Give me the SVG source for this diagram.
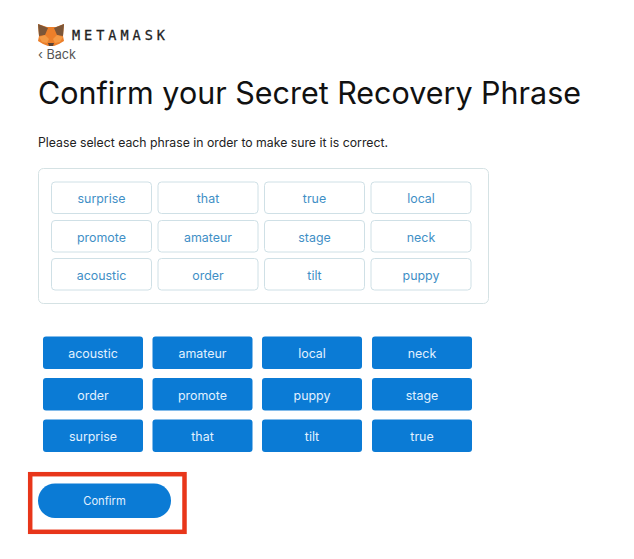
<svg xmlns="http://www.w3.org/2000/svg" width="634" height="559" viewBox="0 0 634 559">
<style>
text{font-family:"Inter","Lato","Liberation Sans",sans-serif}
.l rect{fill:#fff;stroke:#cfe0e6;stroke-width:1}
.l text{fill:#3f8fc6;font-size:12.400px;text-anchor:middle}
.d rect{fill:#0b7bd5}
.d text{fill:#e2f1ff;font-size:12.400px;text-anchor:middle}
</style>
<rect width="634" height="559" fill="#fff"/>
<g id="logo">
<polygon points="38,24 47,27 56,27 64,24 63,36 64,41 59,44 54,46 48,46 43,44 38,41 39,36" fill="#ec7f2a"/>
<polygon points="38,24 48,28 45,35 39,36" fill="#7c5638"/>
<polygon points="64,24 54,28 57,35 63,36" fill="#7c5638"/>
<polygon points="39,37 45,35 49,39 47,43 42,42" fill="#f49a45"/>
<polygon points="63,37 57,35 53,39 55,43 60,42" fill="#f49a45"/>
<polygon points="48,43 54,43 53,46 49,46" fill="#5a4436"/>
<text x="72" y="39.500" font-size="13.500" fill="#222" stroke="#222" stroke-width=".3" style="font-family:'DejaVu Sans Mono','Liberation Mono',monospace" textLength="93">METAMASK</text>
</g>
<text id="back" x="38" y="59" font-size="13" fill="#555" textLength="38" lengthAdjust="spacingAndGlyphs">‹ Back</text>
<text id="title" x="38" y="104" font-size="30.500" fill="#111" textLength="543" lengthAdjust="spacingAndGlyphs">Confirm your Secret Recovery Phrase</text>
<text id="subtitle" x="38" y="147" font-size="12.500" fill="#222" textLength="350" lengthAdjust="spacingAndGlyphs">Please select each phrase in order to make sure it is correct.</text>
<rect id="panel" x="38.500" y="168.500" width="450" height="135" rx="5" fill="#fff" stroke="#d5e2e4"/>
<g class="l">
<g id="s1"><rect x="51.500" y="182" width="100" height="31.500" rx="3.500"/><text x="101.500" y="203">surprise</text></g>
<g id="s2"><rect x="158" y="182" width="100" height="31.500" rx="3.500"/><text x="208" y="203">that</text></g>
<g id="s3"><rect x="264.500" y="182" width="100" height="31.500" rx="3.500"/><text x="314.500" y="203">true</text></g>
<g id="s4"><rect x="371" y="182" width="100" height="31.500" rx="3.500"/><text x="421" y="203">local</text></g>
<g id="s5"><rect x="51.500" y="220.500" width="100" height="31.500" rx="3.500"/><text x="101.500" y="241.500">promote</text></g>
<g id="s6"><rect x="158" y="220.500" width="100" height="31.500" rx="3.500"/><text x="208" y="241.500">amateur</text></g>
<g id="s7"><rect x="264.500" y="220.500" width="100" height="31.500" rx="3.500"/><text x="314.500" y="241.500">stage</text></g>
<g id="s8"><rect x="371" y="220.500" width="100" height="31.500" rx="3.500"/><text x="421" y="241.500">neck</text></g>
<g id="s9"><rect x="51.500" y="258.500" width="100" height="31.500" rx="3.500"/><text x="101.500" y="279.500">acoustic</text></g>
<g id="s10"><rect x="158" y="258.500" width="100" height="31.500" rx="3.500"/><text x="208" y="279.500">order</text></g>
<g id="s11"><rect x="264.500" y="258.500" width="100" height="31.500" rx="3.500"/><text x="314.500" y="279.500">tilt</text></g>
<g id="s12"><rect x="371" y="258.500" width="100" height="31.500" rx="3.500"/><text x="421" y="279.500">puppy</text></g>
</g>
<g class="d">
<g id="w1"><rect x="43" y="336.500" width="100" height="32.500" rx="3"/><text x="93" y="358">acoustic</text></g>
<g id="w2"><rect x="152.500" y="336.500" width="100" height="32.500" rx="3"/><text x="202.500" y="358">amateur</text></g>
<g id="w3"><rect x="262" y="336.500" width="100" height="32.500" rx="3"/><text x="312" y="358">local</text></g>
<g id="w4"><rect x="372" y="336.500" width="100" height="32.500" rx="3"/><text x="422" y="358">neck</text></g>
<g id="w5"><rect x="43" y="378" width="100" height="32.500" rx="3"/><text x="93" y="399.500">order</text></g>
<g id="w6"><rect x="152.500" y="378" width="100" height="32.500" rx="3"/><text x="202.500" y="399.500">promote</text></g>
<g id="w7"><rect x="262" y="378" width="100" height="32.500" rx="3"/><text x="312" y="399.500">puppy</text></g>
<g id="w8"><rect x="372" y="378" width="100" height="32.500" rx="3"/><text x="422" y="399.500">stage</text></g>
<g id="w9"><rect x="43" y="419.500" width="100" height="32.500" rx="3"/><text x="93" y="441">surprise</text></g>
<g id="w10"><rect x="152.500" y="419.500" width="100" height="32.500" rx="3"/><text x="202.500" y="441">that</text></g>
<g id="w11"><rect x="262" y="419.500" width="100" height="32.500" rx="3"/><text x="312" y="441">tilt</text></g>
<g id="w12"><rect x="372" y="419.500" width="100" height="32.500" rx="3"/><text x="422" y="441">true</text></g>
</g>
<g id="confirm" class="d">
<rect x="38" y="483.500" width="133" height="34.500" rx="17"/>
<text x="104.500" y="505" style="font-size:11.200px">Confirm</text>
</g>
<rect id="highlight" x="30.200" y="474.200" width="154.300" height="57.600" fill="none" stroke="#e8361a" stroke-width="4.500"/>
<g id="connectors"/>
</svg>
